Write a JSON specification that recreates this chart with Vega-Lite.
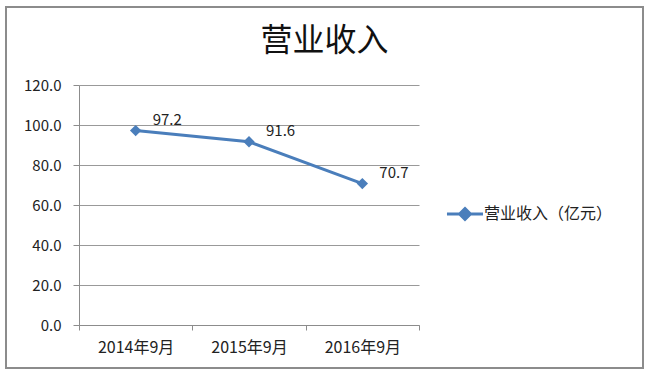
{
  "$schema": "https://vega.github.io/schema/vega-lite/v6.json",
  "autosize": "none",
  "width": 637,
  "height": 361,
  "padding": {"left": 6, "top": 7, "right": 6, "bottom": 5},
  "background": "white",
  "config": {
    "view": {"stroke": "#8c8c8c", "strokeWidth": 2},
    "font": "Noto Sans CJK SC"
  },
  "title": {
    "text": "营业收入",
    "fontSize": 32,
    "fontWeight": "normal",
    "color": "#111",
    "font": "Noto Sans CJK SC",
    "anchor": "middle",
    "offset": -51
  },
  "data": {
    "values": [
      {"period": "2014年9月", "value": 97.2, "series": "营业收入（亿元）"},
      {"period": "2015年9月", "value": 91.6, "series": "营业收入（亿元）"},
      {"period": "2016年9月", "value": 70.7, "series": "营业收入（亿元）"}
    ]
  },
  "encoding": {
    "x": {
      "field": "period",
      "type": "ordinal",
      "bandPosition": 0.5,
      "scale": {"type": "band", "range": [73, 413], "paddingInner": 0, "paddingOuter": 0},
      "axis": {
        "title": null,
        "labelAngle": 0,
        "offset": -43,
        "tickBand": "extent",
        "domainColor": "#8c8c8c",
        "tickColor": "#8c8c8c",
        "tickSize": 5,
        "labelFontSize": 16,
        "labelColor": "#222",
        "labelPadding": 9,
        "grid": false
      }
    },
    "y": {
      "field": "value",
      "type": "quantitative",
      "scale": {"domain": [0, 120], "range": [318, 78], "nice": false},
      "axis": {
        "title": null,
        "values": [0, 20, 40, 60, 80, 100, 120],
        "format": ".1f",
        "offset": -73,
        "domainColor": "#8c8c8c",
        "tickColor": "#8c8c8c",
        "gridColor": "#999999",
        "gridOpacity": 1,
        "tickSize": 6,
        "labelFontSize": 15,
        "labelColor": "#222",
        "labelPadding": 12
      }
    }
  },
  "layer": [
    {
      "mark": {"type": "line", "strokeWidth": 3, "point": {"shape": "diamond", "size": 130, "filled": true, "color": "#4a7ebb"}},
      "encoding": {
        "color": {
          "field": "series",
          "type": "nominal",
          "scale": {"range": ["#4a7ebb"]},
          "legend": {
            "title": null,
            "orient": "none",
            "legendX": 439,
            "legendY": 187,
            "symbolType": "M-1,0H1M0,-0.3L0.3,0L0,0.3L-0.3,0Z",
            "symbolSize": 1300,
            "symbolStrokeWidth": 3,
            "symbolFillColor": "#4a7ebb",
            "labelFontSize": 16,
            "labelColor": "#222",
            "labelOffset": -1
          }
        }
      }
    },
    {
      "mark": {"type": "text", "align": "left", "dx": 17, "dy": -11, "fontSize": 15, "color": "#222"},
      "encoding": {
        "text": {"field": "value", "type": "quantitative", "format": ".1f"}
      }
    }
  ]
}
